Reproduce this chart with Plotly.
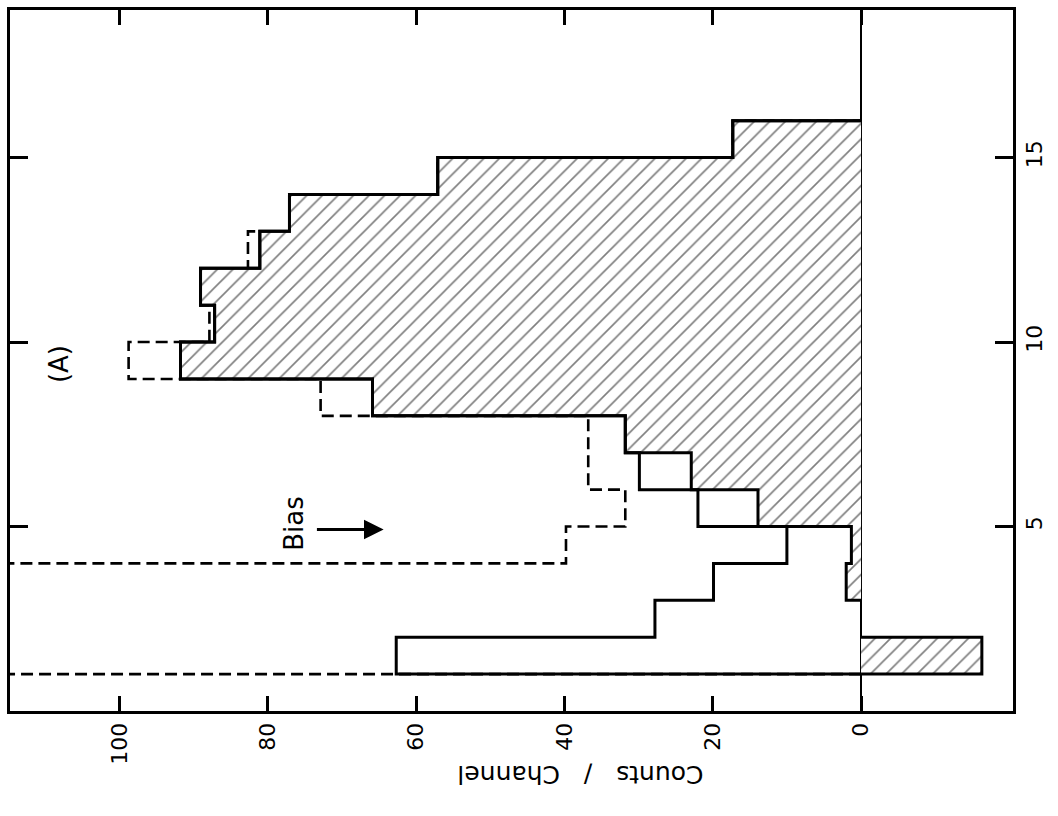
import plotly.graph_objects as go

# Channel bin edges (channel n spans n .. n+1)
channel_edges = list(range(1, 17))

# Counts per channel, bins 1-2 ... 15-16
hatched_counts = [-16.3, 0, 2.0, 1.3, 13.9, 22.9, 31.8, 65.9, 91.8, 87.2, 89.1, 81.1, 77.1, 57.1, 17.3]
solid_counts = [62.7, 27.8, 19.9, 10.0, 22.0, 29.9, 31.8, 65.9, 91.8, 87.2, 89.1, 81.1, 77.1, 57.1, 17.3]
# first three dashed bins run off the top of the scale
dashed_counts = [150, 150, 150, 39.8, 31.8, 36.8, 36.8, 72.9, 98.8, 87.9, 89.1, 82.7, 77.1, 57.1, 17.3]

count_ticks = [0, 20, 40, 60, 80, 100]
channel_ticks = [5, 10, 15]

FONT = "DejaVu Sans"


def step_outline(edges, values, break_on_zero=False):
    """Histogram outline: vertical runs at each bin value, steps at the edges."""
    xs, ys = [0], [edges[0]]
    for i, v in enumerate(values):
        if break_on_zero and v == 0:
            xs += [0, None, 0]
            ys += [edges[i], None, edges[i + 1]]
        else:
            xs += [v, v]
            ys += [edges[i], edges[i + 1]]
    xs.append(0)
    ys.append(edges[-1])
    return xs, ys


fig = go.Figure()

# dashed spectrum
dx, dy = step_outline(channel_edges, dashed_counts)
fig.add_trace(go.Scatter(x=dx, y=dy, mode="lines",
                         line=dict(color="black", width=2.6, dash="12px,6px"),
                         hoverinfo="skip"))

# hatched area
hx, hy = step_outline(channel_edges, hatched_counts)
fig.add_trace(go.Scatter(x=hx, y=hy, mode="none", fill="toself",
                         fillcolor="white",
                         fillpattern=dict(shape="/", size=11, solidity=0.15,
                                          fgcolor="black", bgcolor="white"),
                         hoverinfo="skip"))

# open solid spectrum
sx, sy = step_outline(channel_edges, solid_counts)
fig.add_trace(go.Scatter(x=sx, y=sy, mode="lines",
                         line=dict(color="black", width=3),
                         hoverinfo="skip"))

# outline of the hatched spectrum
ox, oy = step_outline(channel_edges, hatched_counts, break_on_zero=True)
fig.add_trace(go.Scatter(x=ox, y=oy, mode="lines",
                         line=dict(color="black", width=3),
                         connectgaps=False, hoverinfo="skip"))

fig.update_layout(
    width=1058, height=816, autosize=False,
    margin=dict(l=9, r=45, t=7, b=105),
    paper_bgcolor="white", plot_bgcolor="white",
    showlegend=False,
    font=dict(family=FONT, color="black", size=22),
    xaxis=dict(
        range=[114.8, -20.5],
        tickmode="array", tickvals=count_ticks,
        ticktext=[str(v) for v in count_ticks],
        tickangle=-90,
        ticks="inside", ticklen=15, tickwidth=3, tickcolor="black",
        showline=True, linewidth=3, linecolor="black", mirror="ticks",
        showgrid=False,
        zeroline=True, zerolinecolor="black", zerolinewidth=1.5,
        tickfont=dict(family=FONT, size=22),
    ),
    yaxis=dict(
        range=[0, 19],
        side="right",
        tickmode="array", tickvals=channel_ticks,
        ticktext=[str(v) for v in channel_ticks],
        tickangle=-90,
        ticks="inside", ticklen=18, tickwidth=3, tickcolor="black",
        showline=True, linewidth=3, linecolor="black", mirror="ticks",
        showgrid=False, zeroline=False,
        tickfont=dict(family=FONT, size=22),
    ),
    annotations=[
        dict(text="Counts   /   Channel", xref="paper", yref="paper",
             x=0.569, y=-0.115, showarrow=False, textangle=180,
             font=dict(family=FONT, size=25)),
        dict(text="(A)", xref="x", yref="y", x=108.2, y=9.4,
             showarrow=False, textangle=-90,
             font=dict(family=FONT, size=26)),
        dict(text="Bias", xref="x", yref="y", x=76.5, y=5.1,
             showarrow=False, textangle=-90,
             font=dict(family=FONT, size=26)),
        dict(text="", xref="x", yref="y", axref="x", ayref="y",
             x=64.4, y=4.92, ax=73.6, ay=4.92,
             showarrow=True, arrowhead=2, arrowsize=1.4, arrowwidth=2.8,
             arrowcolor="black"),
    ],
)

fig.write_html("out.html")
